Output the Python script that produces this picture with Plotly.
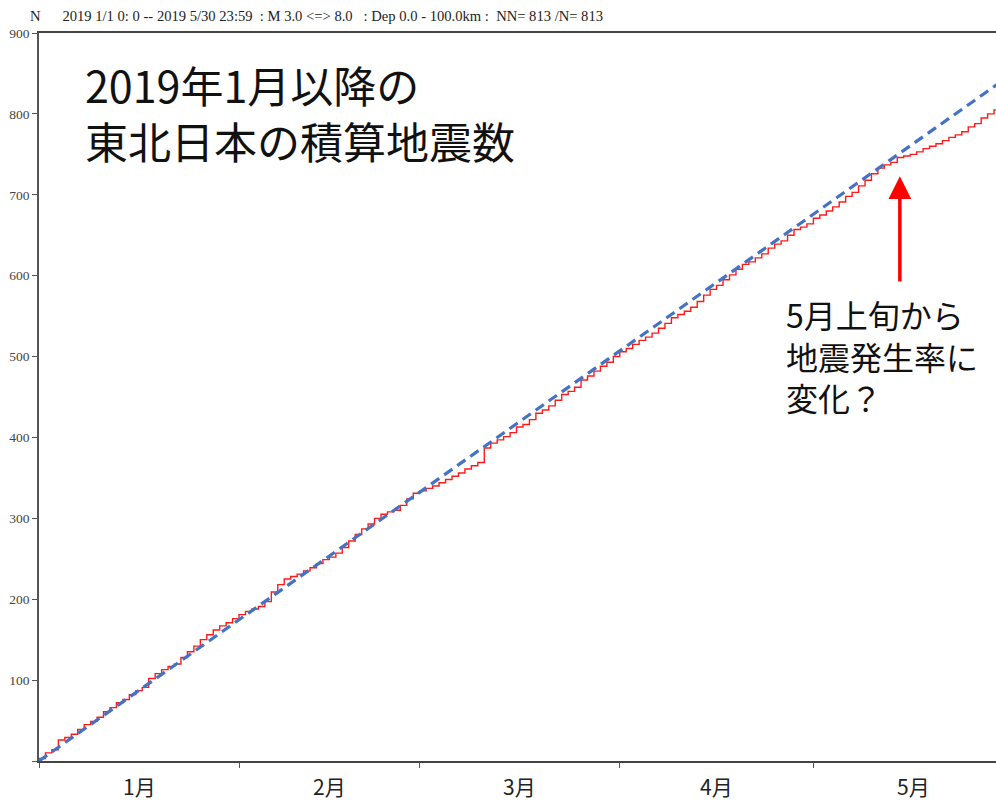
import plotly.graph_objects as go

# ---- data ----
days = list(range(0, 151))
counts = [3, 10, 14, 26, 29, 33, 39, 45, 49, 54,
          61, 66, 72, 76, 82, 87, 91, 102, 108, 113,
          117, 120, 128, 135, 142, 150, 156, 162, 167, 171,
          176, 181, 185, 188, 191, 197, 209, 218, 225, 228,
          231, 235, 239, 244, 249, 252, 257, 264, 272, 280,
          287, 293, 300, 305, 308, 310, 316, 324, 331, 334,
          337, 340, 344, 348, 352, 356, 361, 365, 369, 387,
          393, 397, 401, 406, 413, 416, 422, 430, 434, 439,
          446, 453, 457, 462, 471, 476, 482, 488, 493, 500,
          506, 510, 515, 520, 524, 529, 535, 541, 548, 552,
          556, 561, 568, 576, 583, 588, 595, 601, 608, 614,
          617, 622, 627, 634, 639, 643, 650, 657, 660, 664,
          671, 675, 680, 685, 691, 698, 703, 711, 718, 726,
          733, 737, 740, 746, 748, 750, 753, 757, 760, 763,
          767, 771, 774, 778, 784, 788, 795, 800, 805, 810,
          813]

trend_days = [0, 150]
trend_counts = [0, 845]

month_starts = [0, 31, 59, 90, 120]
month_mids = [15.5, 45, 74.5, 105, 135.5]
month_labels = ["1月", "2月", "3月", "4月", "5月"]

y_ticks = [0, 100, 200, 300, 400, 500, 600, 700, 800, 900]
y_ticktext = ["", "100", "200", "300", "400", "500", "600", "700", "800", "900"]

header = ("N&nbsp;&nbsp;&nbsp;&nbsp;&nbsp;&nbsp;2019 1/1 0: 0 -- 2019 5/30 23:59&nbsp; : M 3.0 &lt;=&gt; 8.0 "
          "&nbsp; : Dep 0.0 - 100.0km :&nbsp; NN= 813 /N= 813")
title_lines = ["2019年1月以降の", "東北日本の積算地震数"]
note_lines = ["5月上旬から", "地震発生率に", "変化？"]

arrow_day = 133.4
arrow_head = 723
arrow_tail = 591

# ---- figure ----
fig = go.Figure()
fig.add_trace(go.Scatter(x=days, y=counts, mode="lines", line_shape="hv",
                         line=dict(color="#ff1a1a", width=1.4), hoverinfo="skip"))
fig.add_trace(go.Scatter(x=trend_days, y=trend_counts, mode="lines",
                         line=dict(color="#4472c4", width=3.2, dash="10px,6px"), hoverinfo="skip"))

serif = "Liberation Serif, Times New Roman, serif"
jp = "Noto Sans CJK JP, sans-serif"

fig.update_layout(
    width=996, height=801,
    margin=dict(l=39, r=0, t=33, b=40),
    paper_bgcolor="white", plot_bgcolor="white",
    showlegend=False,
    xaxis=dict(range=[0, 148.3], tickvals=month_starts, ticktext=[""] * len(month_starts),
               ticks="outside", ticklen=5, tickcolor="#555", tickwidth=1,
               showline=True, linecolor="#444", linewidth=1.5, mirror=True,
               showgrid=False, zeroline=False, fixedrange=True),
    yaxis=dict(range=[0, 900], tickvals=y_ticks, ticktext=y_ticktext,
               ticks="outside", ticklen=5, tickcolor="#555", tickwidth=1,
               showline=True, linecolor="#555", linewidth=1.5,
               tickfont=dict(family=serif, size=13.5, color="#444"),
               showgrid=False, zeroline=False, fixedrange=True),
)

annotations = []
annotations.append(dict(text=header, xref="paper", yref="paper", x=-0.0115, y=1.0234,
                        xanchor="left", yanchor="middle", showarrow=False,
                        font=dict(family=serif, size=14.6, color="#222")))
for lab, xm in zip(month_labels, month_mids):
    annotations.append(dict(text=lab, xref="x", yref="paper", x=xm, y=0, yanchor="top",
                            yshift=-8, showarrow=False,
                            font=dict(family=jp, size=21, color="#222")))
annotations.append(dict(text="<br>".join(title_lines), xref="paper", yref="paper", x=0.046,
                        y=(761 - 112) / 728, xanchor="left", yanchor="middle", align="left",
                        showarrow=False, font=dict(family=jp, size=43, color="#111")))
annotations.append(dict(text="<br>".join(note_lines), xref="paper", yref="paper", x=0.778,
                        y=(761 - 355) / 728, xanchor="left", yanchor="middle", align="left",
                        showarrow=False, font=dict(family=jp, size=32, color="#111")))
annotations.append(dict(text="", x=arrow_day, y=arrow_head, xref="x", yref="y",
                        ax=arrow_day, ay=arrow_tail, axref="x", ayref="y",
                        showarrow=True, arrowhead=2, arrowsize=1.3, arrowwidth=3.5,
                        arrowcolor="#ff0000"))
fig.update_layout(annotations=annotations)

fig.write_html("out.html")
